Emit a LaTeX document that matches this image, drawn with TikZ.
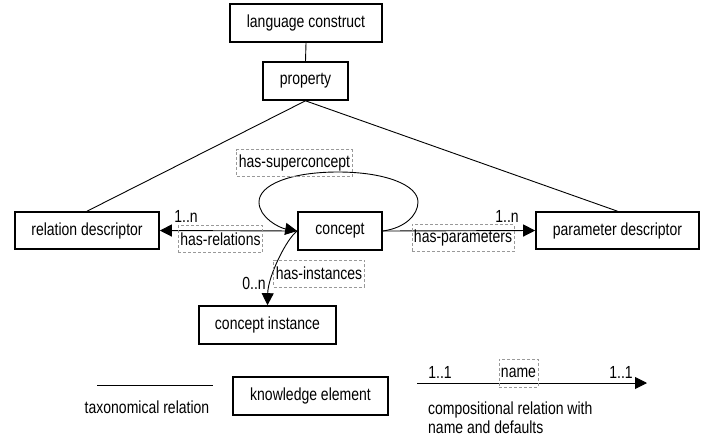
\documentclass[tikz,border=0pt]{standalone}
\usepackage{fontspec}
\setmainfont{Liberation Sans}[FakeStretch=0.8]
\usetikzlibrary{arrows.meta}
\begin{document}
\begin{tikzpicture}[x=1pt,y=-1pt,
  every node/.style={font=\fontsize{17.5}{19}\selectfont},
  kbox/.style={draw, line width=1.6pt, inner sep=0pt},
  lbl/.style={draw=gray!80, dashed, dash pattern=on 3pt off 2pt, line width=0.8pt, inner xsep=2pt, inner ysep=0pt, minimum height=27pt},
  card/.style={inner sep=0pt},
  conn/.style={line width=0.9pt},
  arr/.style={conn, -{Triangle[length=12pt,width=12pt]}}]
\useasboundingbox (0,0) rectangle (704,440);
% knowledge elements
\node[kbox, minimum width=152pt, minimum height=38pt] (lc) at (306,23) {language construct};
\node[kbox, minimum width=85pt, minimum height=38pt] (prop) at (305.5,81) {property};
\node[kbox, minimum width=144pt, minimum height=37pt] (rel) at (87,230.5) {relation descriptor};
\node[kbox, minimum width=84pt, minimum height=38pt] (concept) at (340,231) {concept};
\node[kbox, minimum width=163pt, minimum height=37pt] (param) at (617.5,230.5) {parameter descriptor};
\node[kbox, minimum width=137pt, minimum height=38pt] (inst) at (267.5,325) {concept instance};
% taxonomical relations
\draw[conn] (lc.south) -- (prop.north);
\draw[conn] (prop.south) -- (rel.north);
\draw[conn] (prop.south) -- (param.north);
% compositional relations
\draw[arr] (concept.west) -- (rel.east);
\draw[arr] (concept.east) -- (param.west);
\draw[arr] (concept.east) .. controls (405,228) and (418,215) .. (418,202)
  .. controls (418,185) and (385,172) .. (338,172)
  .. controls (290,172) and (259,185) .. (259,202)
  .. controls (259,218) and (280,228) .. (concept.west);
\draw[arr] (concept.west) .. controls (287,238) and (268,276) .. (inst.north);
% labels
\node[card] (c1) at (186,216) {1..n};
\node[lbl] (hr) at (220.5,239) {has-relations};
\node[card] (c2) at (507,216) {1..n};
\node[lbl] (hp) at (463,238) {has-parameters};
\node[lbl] (hs) at (294.5,163) {has-superconcept};
\node[lbl] (hi) at (319,273.5) {has-instances};
\node[card] (c3) at (254,283) {0..n};
% legend
\coordinate (t1) at (97,385);
\coordinate (t2) at (213,385);
\draw[conn] (t1) -- (t2);
\node[card] (tl) at (147,407) {taxonomical relation};
\node[kbox, minimum width=155pt, minimum height=38pt] (ke) at (310.5,396) {knowledge element};
\coordinate (k1) at (417,383);
\coordinate (k2) at (647,383);
\draw[arr] (k1) -- (k2);
\node[card] (d1) at (440,372) {1..1};
\node[lbl, minimum height=28pt] (nm) at (518.5,373) {name};
\node[card] (d2) at (621,372) {1..1};
\node[card, anchor=west, align=left] (cl) at (428,417.5) {compositional relation with\\name and defaults};
\end{tikzpicture}
\end{document}
